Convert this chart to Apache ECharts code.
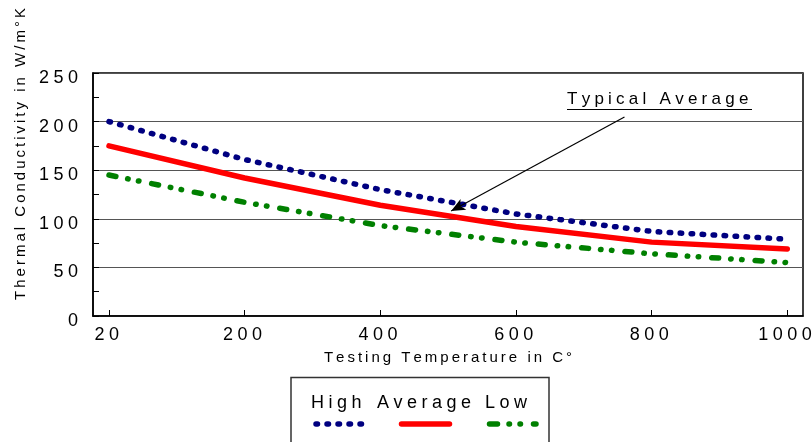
<!DOCTYPE html>
<html>
<head>
<meta charset="utf-8">
<script src="https://cdn.jsdelivr.net/npm/echarts@6/dist/echarts.min.js"></script>
<style>html,body{margin:0;padding:0;background:#fff}#c{width:812px;height:442px}</style>
</head>
<body>
<div id="c"></div>
<script>
const categories = ['20', '200', '400', '600', '800', '1000'];
const high = [200, 161, 130, 105, 87, 79];
const average = [175, 142, 114, 92, 76, 69];
const low = [145, 117, 93, 76, 64, 55];
const seriesNames = ['High', 'Average', 'Low'];
const xName = 'Testing Temperature in C°';
const yName = 'Thermal Conductivity in W/m°K';
const noteText = 'Typical Average';

const FONT = "'Liberation Sans', Arial, sans-serif";
function spaced(s, sep) { return s.split('').join(sep); }

const chart = echarts.init(document.getElementById('c'));
const idx = categories.map((c, i) => i);
const toData = arr => arr.map((v, i) => [i, v]);

chart.setOption({
  animation: false,
  backgroundColor: '#fff',
  grid: {
    left: 93, right: 9, top: 73, bottom: 126,
    show: true, borderColor: '#000', borderWidth: 1.5,
    outerBoundsMode: 'none'
  },
  xAxis: {
    type: 'value',
    min: -0.118, max: 5.116,
    name: spaced(xName, '\u2009'),
    nameLocation: 'middle',
    nameGap: 34,
    nameTextStyle: { fontFamily: FONT, fontSize: 15, color: '#000' },
    axisLine: { onZero: false, lineStyle: { color: '#000', width: 1.5 } },
    axisTick: { show: true, inside: true, length: 6, customValues: idx, lineStyle: { color: '#000' } },
    axisLabel: {
      customValues: idx,
      formatter: v => spaced(categories[Math.round(v)], '\u2005') + '\u2005',
      fontFamily: FONT, fontSize: 18, color: '#000', margin: 10
    },
    splitLine: { show: false }
  },
  yAxis: {
    type: 'value',
    min: 0, max: 250, interval: 50,
    name: spaced(yName, '\u2009'),
    nameLocation: 'middle',
    nameGap: 65,
    nameTextStyle: { fontFamily: FONT, fontSize: 15, color: '#000', padding: [0, 0, 0, 81] },
    axisLine: { show: true, onZero: false, lineStyle: { color: '#000', width: 1.5 } },
    axisTick: { show: true, inside: true, length: 6, lineStyle: { color: '#000' } },
    minorTick: { show: true, splitNumber: 2, length: 6, lineStyle: { color: '#000' } },
    axisLabel: {
      formatter: v => spaced(String(v), '\u2005'),
      fontFamily: FONT, fontSize: 18, color: '#000', margin: 15,
      verticalAlign: 'top', lineHeight: 10
    },
    splitLine: { show: true, lineStyle: { color: '#555', width: 1.2 } }
  },
  series: [
    {
      name: seriesNames[0], type: 'line', data: toData(high), symbol: 'none',
      lineStyle: { color: '#000080', width: 5.5, type: [1.5, 9.5], cap: 'round' }
    },
    {
      name: seriesNames[1], type: 'line', data: toData(average), symbol: 'none',
      lineStyle: { color: '#ff0000', width: 5.5, type: 'solid', cap: 'round' },
      markLine: {
        silent: true,
        symbol: ['none', 'arrow'],
        symbolSize: [9, 14],
        label: { show: false },
        lineStyle: { color: '#000', width: 1.2, type: 'solid' },
        data: [[{ coord: [3.80, 204.7] }, { coord: [2.522, 108] }]]
      }
    },
    {
      name: seriesNames[2], type: 'line', data: toData(low), symbol: 'none',
      lineStyle: { color: '#008000', width: 5.5, type: [7, 12, 0.5, 10.5, 0.5, 13], cap: 'round' }
    }
  ],
  graphic: [
    { type: 'text', left: 567, top: 91,
      style: { text: spaced(noteText, '\u2005'), font: '17px ' + FONT, fill: '#000' } },
    { type: 'line', shape: { x1: 567, y1: 109.5, x2: 752, y2: 109.5 }, style: { stroke: '#000', lineWidth: 1.2 } },
    { type: 'rect', shape: { x: 291, y: 377.5, width: 258, height: 80 }, style: { fill: 'none', stroke: '#333', lineWidth: 1.5 } },
    { type: 'text', left: 311, top: 394, style: { text: spaced(seriesNames[0], '\u2005'), font: '18px ' + FONT, fill: '#000' } },
    { type: 'text', left: 377, top: 394, style: { text: spaced(seriesNames[1], '\u2005'), font: '18px ' + FONT, fill: '#000' } },
    { type: 'text', left: 485, top: 394, style: { text: spaced(seriesNames[2], '\u2005'), font: '18px ' + FONT, fill: '#000' } },
    { type: 'line', shape: { x1: 316, y1: 424, x2: 362, y2: 424 }, style: { stroke: '#000080', lineWidth: 5.5, lineCap: 'round', lineDash: [1.5, 9.5] } },
    { type: 'line', shape: { x1: 401.5, y1: 424, x2: 449.5, y2: 424 }, style: { stroke: '#ff0000', lineWidth: 5.5, lineCap: 'round' } },
    { type: 'line', shape: { x1: 489.5, y1: 424, x2: 536, y2: 424 }, style: { stroke: '#008000', lineWidth: 5.5, lineCap: 'round', lineDash: [8, 11.5, 0.5, 10.5, 0.5, 13] } }
  ]
});
</script>
</body>
</html>
